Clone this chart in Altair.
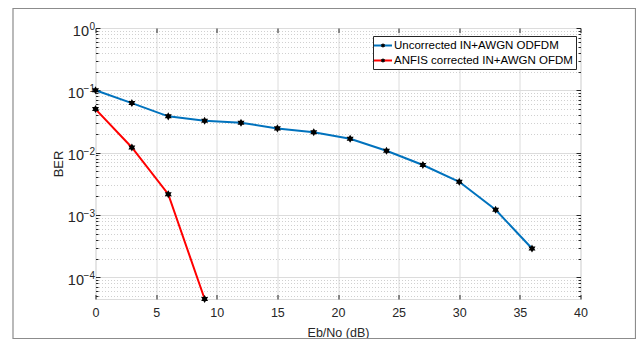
import json
import altair as alt
import pandas as pd

# ---------------- data ----------------
snr_uncorr = [0, 3, 6, 9, 12, 15, 18, 21, 24, 27, 30, 33, 36]
ber_uncorr = [0.1, 0.0624, 0.0382, 0.0324, 0.0301, 0.0245, 0.0213, 0.0167,
              0.0107, 0.00634, 0.0034, 0.00121, 0.000289]
snr_anfis = [0, 3, 6, 9]
ber_anfis = [0.05, 0.0121, 0.00215, 4.48e-5]
series_names = ["Uncorrected IN+AWGN ODFDM", "ANFIS corrected IN+AWGN OFDM"]
series_colors = ["#0072BD", "#FF0000"]

x_ticks = [0, 5, 10, 15, 20, 25, 30, 35, 40]
y_major = [1, 0.1, 0.01, 0.001, 0.0001]
y_exp_labels = ["0", "\u22121", "\u22122", "\u22123", "\u22124"]
y_minor_mult = [2, 3, 4, 5, 6, 7, 8, 9]
x_domain = [0, 40]
y_domain = [4.48e-5, 1]

y_minor = [m * 10.0 ** k for k in range(-5, 0) for m in y_minor_mult
           if y_domain[0] <= m * 10.0 ** k <= y_domain[1]]

df = pd.DataFrame({
    "snr": snr_uncorr + snr_anfis,
    "ber": ber_uncorr + ber_anfis,
    "series": [series_names[0]] * len(snr_uncorr) + [series_names[1]] * len(snr_anfis),
})

# ---------------- styling ----------------
FONT = "Liberation Sans"
AX = "#262626"
GRID = "#dcdcdc"
MINOR_GRID = "#c4c4c4"
W, H = 485, 271
STAR = ("M0,-0.42L0.1212,-0.21L0.3637,-0.21L0.2425,0L0.3637,0.21L0.1212,0.21"
        "L0,0.42L-0.1212,0.21L-0.3637,0.21L-0.2425,0L-0.3637,-0.21L-0.1212,-0.21Z")

xscale = alt.Scale(domain=x_domain, nice=False, zero=False)
yscale = alt.Scale(type="log", domain=y_domain, nice=False)
is_major = "abs(log(datum.value)/LN10 - round(log(datum.value)/LN10)) < 1e-6"

exp_expr = (json.dumps(y_exp_labels, ensure_ascii=False) + "[indexof("
            + json.dumps(y_major) + ", datum.value)] || ''")

x_bottom = alt.Axis(
    orient="bottom", values=x_ticks, offset=-4.5, tickSize=4.5, tickColor=AX,
    tickWidth=1, domain=False, grid=True, gridColor=GRID, gridWidth=1,
    labelFont=FONT, labelFontSize=12.5, labelColor=AX, labelPadding=7.5,
    labelFlush=False, labelOverlap=False,
    title="Eb/No (dB)", titleFont=FONT, titleFontSize=12.5, titleFontWeight="normal",
    titleColor=AX, titleX=W / 2, titleY=37.5, titleBaseline="middle", titleAlign="center",
)
x_top = alt.Axis(
    orient="top", values=x_ticks, offset=-4.5, tickSize=4.5, tickColor=AX,
    tickWidth=1, domain=False, grid=False, labels=False, title=None,
)
y_left_major = alt.Axis(
    orient="left", values=y_major, offset=-4.5, tickSize=4.5, tickColor=AX,
    tickWidth=1, domain=False, grid=True, gridColor=GRID, gridWidth=1,
    labelExpr="'10'", labelFont=FONT, labelFontSize=14.5, labelColor=AX,
    labelAlign="right", labelBaseline="middle", labelOffset=3,
    labelPadding={"condition": {"test": "datum.value == 1", "value": 7.0}, "value": 12.0},
    labelOverlap=False, labelFlush=False,
    title="BER", titleFont=FONT, titleFontSize=13, titleFontWeight="normal",
    titleColor=AX, titleAngle=270, titleX=-42, titleY=H / 2,
    titleBaseline="middle", titleAlign="center",
)
y_left_minor = alt.Axis(
    orient="left", values=y_major + y_minor, offset=-2.5, tickSize=2.5, tickColor=AX,
    tickWidth=1, tickOpacity={"condition": {"test": is_major, "value": 0}, "value": 1},
    domain=False, grid=True, gridColor=MINOR_GRID, gridDash=[1, 2], gridWidth=0.8,
    gridOpacity={"condition": {"test": is_major, "value": 0}, "value": 1},
    labelExpr=exp_expr, labelFont=FONT, labelFontSize=10, labelColor=AX,
    labelAlign="right", labelBaseline="middle", labelOffset=-1.5, labelPadding=1.0,
    labelOverlap=False, labelFlush=False, title=None,
)
y_right_major = alt.Axis(
    orient="right", values=y_major, offset=-4.5, tickSize=4.5, tickColor=AX,
    tickWidth=1, domain=False, grid=False, labels=False, title=None,
)
y_right_minor = alt.Axis(
    orient="right", values=y_minor, offset=-2.5, tickSize=2.5, tickColor=AX,
    tickWidth=1, domain=False, grid=False, labels=False, title=None,
)

leg_common = dict(
    orient="none", legendX=277.5, legendY=8, title=None, direction="vertical",
    symbolSize=144, padding=2.5, rowPadding=2, labelOffset=4, symbolOffset=0.5,
    labelFont=FONT, labelFontSize=11.5, labelLimit=0,
)
color_legend = alt.Legend(
    **leg_common, symbolType="M-1.5,0H1.5", symbolStrokeWidth=2, labelColor="#000000",
    strokeColor=AX, fillColor="white", zindex=1,
)
shape_legend = alt.Legend(
    **leg_common, symbolStrokeWidth=1.5, symbolFillColor="black",
    symbolStrokeColor="black", labelOpacity=0, zindex=2,
)

frame = alt.Chart(pd.DataFrame({"k": [0]})).mark_rect(
    filled=False, color="#8c8c8c", strokeWidth=1.2
).encode(
    x=alt.value(-82.5), x2=alt.value(540), y=alt.value(-19.5), y2=alt.value(310.6)
)

base = alt.Chart(df)

lines = base.mark_line(strokeWidth=2).encode(
    x=alt.X("snr:Q", scale=xscale, axis=x_bottom),
    y=alt.Y("ber:Q", scale=yscale, axis=y_left_major),
    color=alt.Color("series:N", scale=alt.Scale(domain=series_names, range=series_colors),
                    legend=color_legend),
)

points = base.transform_calculate(series2="datum.series + ' '").mark_point(
    filled=True, fill="black", stroke="black", strokeWidth=1.5, size=144, opacity=1
).encode(
    x=alt.X("snr:Q", scale=xscale, axis=x_top),
    y=alt.Y("ber:Q", scale=yscale, axis=y_left_minor),
    shape=alt.Shape("series2:N",
                    scale=alt.Scale(domain=[n + " " for n in series_names], range=[STAR, STAR]),
                    legend=shape_legend),
)

inv_major = base.mark_point(opacity=0).encode(
    x=alt.X("snr:Q", scale=xscale, axis=None),
    y=alt.Y("ber:Q", scale=yscale, axis=y_right_major),
)
inv_minor = base.mark_point(opacity=0).encode(
    x=alt.X("snr:Q", scale=xscale, axis=None),
    y=alt.Y("ber:Q", scale=yscale, axis=y_right_minor),
)

chart = alt.layer(frame, lines, points, inv_major, inv_minor).resolve_scale(
    x="shared", y="shared"
).resolve_axis(
    x="independent", y="independent"
).properties(
    width=W, height=H,
    padding={"left": 87.5, "top": 20, "right": 55.5, "bottom": 40},
    autosize=alt.AutoSizeParams(type="none"),
).configure_view(
    stroke=AX, strokeWidth=1
).configure(
    background="white"
)

chart.save("out.html", embed_options={"renderer": "svg", "actions": False})
